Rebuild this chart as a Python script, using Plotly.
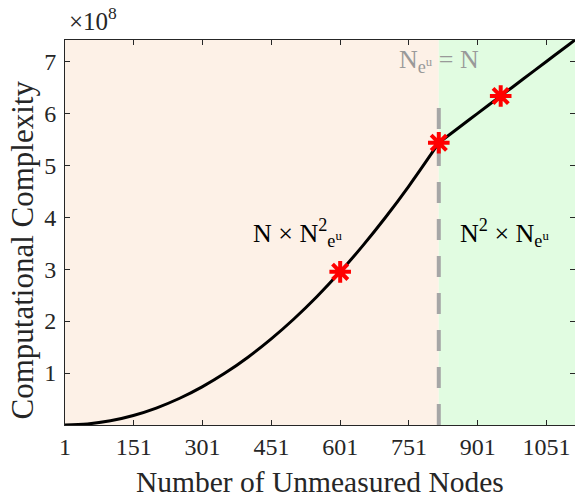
import plotly.graph_objects as go

# ---- data (complexity in units of 1e8) ----
x_left = [1, 50, 100, 150, 200, 250, 300, 350, 400, 450, 500, 550, 600, 650, 700, 750, 800, 816]
y_left = [0.000008, 0.0204, 0.0816, 0.1836, 0.3264, 0.5100, 0.7344, 0.9996, 1.3056, 1.6524,
          2.0400, 2.4684, 2.9376, 3.4476, 3.9984, 4.5900, 5.2224, 5.4334]
x_right = [816, 850, 900, 950, 1000, 1050, 1100, 1113]
y_right = [5.4334, 5.6598, 5.9927, 6.3256, 6.6586, 6.9915, 7.3244, 7.4110]
marker_x = [601, 816, 951]
marker_y = [2.9474, 5.4334, 6.3323]
split_x = 816
x_ticks = [1, 151, 301, 451, 601, 751, 901, 1051]
y_ticks = [1, 2, 3, 4, 5, 6, 7]
x_range = [1, 1113]
y_range = [0, 7.41]

FONT = "Liberation Serif"
TXT = "#262626"

fig = go.Figure()
fig.add_trace(go.Scatter(x=x_left, y=y_left, mode="lines", line=dict(color="black", width=3, shape="spline"),
                         showlegend=False, hoverinfo="skip"))
fig.add_trace(go.Scatter(x=x_right, y=y_right, mode="lines", line=dict(color="black", width=3, shape="spline"),
                         showlegend=False, hoverinfo="skip"))
fig.add_trace(go.Scatter(x=marker_x, y=marker_y, mode="markers",
                         marker=dict(symbol="asterisk-open", size=18, color="red",
                                     line=dict(color="red", width=4)),
                         showlegend=False))

fig.add_shape(type="rect", xref="x", yref="y", x0=x_range[0], x1=split_x, y0=y_range[0], y1=y_range[1],
              fillcolor="#FDF1E7", line=dict(width=0), layer="below")
fig.add_shape(type="rect", xref="x", yref="y", x0=split_x, x1=x_range[1], y0=y_range[0], y1=y_range[1],
              fillcolor="#E1FCE1", line=dict(width=0), layer="below")
fig.add_shape(type="line", xref="x", yref="y", x0=split_x, x1=split_x, y0=0, y1=6.3,
              line=dict(color="#A6A6A6", width=4, dash="21px,16px"), layer="below")

fig.update_layout(
    width=575, height=502,
    margin=dict(l=65, r=0, t=40, b=77),
    paper_bgcolor="white", plot_bgcolor="white",
    font=dict(family=FONT, color=TXT),
    xaxis=dict(range=x_range, tickvals=x_ticks, ticktext=[str(v) for v in x_ticks],
               ticks="inside", ticklen=5, tickcolor=TXT, showline=True, linecolor=TXT, linewidth=1,
               mirror="ticks", showgrid=False, zeroline=False, tickfont=dict(size=24, family=FONT, color=TXT),
               ticklabeloverflow="allow"),
    yaxis=dict(range=y_range, tickvals=y_ticks, ticktext=[str(v) for v in y_ticks],
               ticks="inside", ticklen=5, tickcolor=TXT, showline=True, linecolor=TXT, linewidth=1,
               mirror="ticks", showgrid=False, zeroline=False, tickfont=dict(size=24, family=FONT, color=TXT),
               ticklabelstandoff=3),
)

ann = []
ann.append(dict(text="Number of Unmeasured Nodes", xref="paper", yref="paper", x=0.5, y=-0.148,
                xanchor="center", yanchor="middle", showarrow=False, font=dict(size=29.5, family=FONT, color=TXT)))
ann.append(dict(text="Computational Complexity", xref="paper", yref="paper", x=-0.083, y=0.455,
                xanchor="center", yanchor="middle", textangle=-90, showarrow=False,
                font=dict(size=31, family=FONT, color=TXT)))
ann.append(dict(text="×10<sup>8</sup>", xref="paper", yref="paper", x=0.004, y=1.008,
                xanchor="left", yanchor="bottom", showarrow=False, font=dict(size=25, family=FONT, color=TXT)))
ann.append(dict(text="N<sub>e<sup>u</sup></sub> = N", xref="x", yref="y", x=split_x, y=7.0,
                xanchor="center", yanchor="middle", showarrow=False, font=dict(size=26, family=FONT, color="#999999")))
ann.append(dict(text="N × N<sup>2</sup><sub>e<sup>u</sup></sub>", xref="x", yref="y", x=508, y=3.7,
                xanchor="center", yanchor="middle", showarrow=False, font=dict(size=26, family=FONT, color="black")))
ann.append(dict(text="N<sup>2</sup> × N<sub>e<sup>u</sup></sub>", xref="x", yref="y", x=960, y=3.7,
                xanchor="center", yanchor="middle", showarrow=False, font=dict(size=26, family=FONT, color="black")))
fig.update_layout(annotations=ann)

fig.write_html("out.html")
